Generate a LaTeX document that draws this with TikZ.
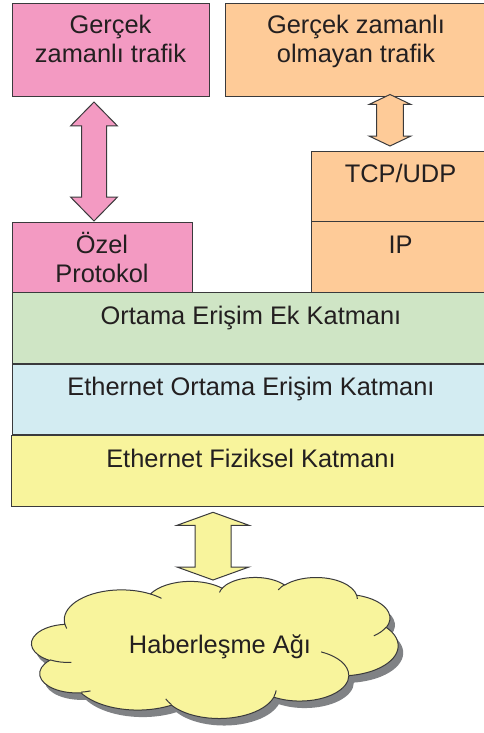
\documentclass[tikz,border=0pt]{standalone}
\usepackage{fontspec}
\setmainfont{Liberation Sans}
\usetikzlibrary{calc}

\definecolor{rtpink}{HTML}{F39AC2}
\definecolor{nrtorange}{HTML}{FECB98}
\definecolor{extgreen}{HTML}{CFE5C5}
\definecolor{macblue}{HTML}{D3ECF2}
\definecolor{phyyellow}{HTML}{F8F49C}
\definecolor{inkline}{HTML}{3A3A3C}
\definecolor{inktext}{HTML}{231F20}
\definecolor{cloudshadow}{HTML}{808285}

% vertical block arrow with a head at both ends:
% fill colour, top tip, bottom tip, half width, half shaft width, head length
\newcommand\blockarrow[6]{%
  \filldraw[fill=#1, arrowline]
    (#2) -- ($(#2)+(#4,#6)$) -- ($(#2)+(#5,#6)$)
    -- ($(#3)+(#5,-#6)$) -- ($(#3)+(#4,-#6)$) -- (#3)
    -- ($(#3)+(-#4,-#6)$) -- ($(#3)+(-#5,-#6)$)
    -- ($(#2)+(-#5,#6)$) -- ($(#2)+(-#4,#6)$) -- cycle;
}

% cloud outline in a 432 x 432 frame (y pointing down)
\newcommand\cloudoutline{(39.00,143.70)
  arc[oarc={67.53}{91.90}{-190.48748}{123.78053}]
  arc[oarc={53.33}{72.67}{-144.10238}{89.94523}]
  arc[oarc={43.65}{59.45}{-145.80792}{99.72302}]
  arc[oarc={48.57}{65.95}{-130.98607}{117.24173}]
  arc[oarc={53.33}{72.73}{-78.70888}{109.02692}]
  arc[oarc={67.75}{92.20}{-46.26725}{130.26900}]
  arc[oarc={57.85}{78.67}{0.62502}{114.03333}]
  arc[oarc={67.52}{92.15}{22.45160}{115.17255}]
  arc[oarc={77.20}{105.43}{66.24263}{75.71102}]
  arc[oarc={43.60}{59.18}{-274.94208}{146.73557}]
  arc[oarc={43.45}{59.45}{-246.82850}{152.51885}]
  -- cycle}

% inner curls of the cloud
\newcommand\cloudcurls{
  (46.93,261.77) arc[oarc={43.45}{59.45}{86.74200}{26.42950}]
  (69.28,348.99) arc[oarc={43.60}{59.18}{73.61047}{11.44747}]
  (164.78,390.90) arc[oarc={67.52}{92.15}{137.62415}{14.08110}]
  (288.27,347.51) arc[oarc={67.52}{92.15}{6.45327}{15.99835}]
  (341.29,229.54) arc[oarc={57.85}{78.67}{-70.29235}{70.91737}]
  (417.98,153.54) arc[oarc={53.33}{72.73}{30.31803}{27.75150}]
  (383.24,54.26) arc[oarc={48.57}{65.95}{-13.74433}{14.85890}]
  (290.78,39.52) arc[oarc={48.57}{65.95}{-149.18145}{18.19537}]
  (221.41,47.20) arc[oarc={43.65}{59.45}{-163.49427}{17.68635}]
  (140.00,51.92) arc[oarc={67.53}{91.90}{-66.70695}{12.31935}]
  (41.27,157.89) arc[oarc={67.53}{91.90}{157.65435}{11.85817}]}

\begin{document}
\begin{tikzpicture}[
  x=1pt, y=-1pt,
  declare function={vang(\w,\h,\t)=atan2(\w*sin(\t),\h*cos(\t));},
  oarc/.style n args={4}{start angle={vang(#1,#2,#3)},
    delta angle={mod(vang(#1,#2,#3+#4)-vang(#1,#2,#3)+720,360)},
    x radius=#1, y radius=#2},
  layer/.style={draw=inkline, line width=1.1pt, rectangle, inner sep=0pt,
    anchor=north west},
  caption/.style={text=inktext, font=\fontsize{25.4pt}{29pt}\selectfont,
    inner sep=0pt, align=center},
  arrowline/.style={draw=inkline, line width=1pt, line join=miter},
]
\useasboundingbox[fill=white] (0,0) rectangle (483,733);

% application level
\node[layer, fill=rtpink, minimum width=197pt, minimum height=93pt] (rtbox) at (12,3) {};
\node[layer, fill=nrtorange, minimum width=265pt, minimum height=93pt] (nrtbox) at (225,3) {};
\node[caption, anchor=north] (rttext) at (110.5,9) {\rule{0pt}{24pt}Gerçek\\zamanlı trafik};
\node[caption, anchor=north] (nrttext) at (356,9) {\rule{0pt}{24pt}Gerçek zamanlı\\olmayan trafik};

% protocol level
\node[layer, fill=rtpink, minimum width=180pt, minimum height=70pt] (ozelbox) at (12,222) {};
\node[caption, anchor=north] (ozeltext) at (102,229) {\rule{0pt}{24pt}Özel\\Protokol};
\node[layer, fill=nrtorange, minimum width=179pt, minimum height=70pt] (tcpbox) at (311,151) {};
\node[layer, fill=nrtorange, minimum width=179pt, minimum height=71pt] (ipbox) at (311,221) {};
\node[caption, anchor=base] (tcptext) at (400.5,182) {TCP/UDP};
\node[caption, anchor=base] (iptext) at (400.5,253) {IP};

% common layers
\node[layer, fill=extgreen, minimum width=478pt, minimum height=70.5pt] (extbox) at (12,292) {};
\node[layer, fill=macblue, minimum width=478pt, minimum height=70.5pt] (macbox) at (12,363.5) {};
\node[layer, fill=phyyellow, minimum width=479pt, minimum height=71pt] (phybox) at (11,435) {};
\node[caption, anchor=base] (exttext) at (251,324) {Ortama Erişim Ek Katmanı};
\node[caption, anchor=base] (mactext) at (251,395) {Ethernet Ortama Erişim Katmanı};
\node[caption, anchor=base] (phytext) at (251,467) {Ethernet Fiziksel Katmanı};

% network cloud with its shadow
\begin{scope}[shift={(36.7,584)}, x=0.848pt, y=-0.3264pt]
  \fill[cloudshadow] \cloudoutline;
\end{scope}
\begin{scope}[shift={(31.7,577)}, x=0.848pt, y=-0.3264pt]
  \filldraw[fill=phyyellow, draw=inkline, line width=1pt] \cloudoutline;
  \draw[inkline, line width=1pt] \cloudcurls;
\end{scope}
\node[caption, anchor=base] (nettext) at (220,653.3) {Haberleşme Ağı};

% block arrows between the levels
\coordinate (rtup) at (94,102);
\coordinate (rtdown) at (94,221);
\coordinate (nrtup) at (390,94.5);
\coordinate (nrtdown) at (390,146);
\coordinate (netup) at (213,512.3);
\coordinate (netdown) at (213,580);
\blockarrow{rtpink}{rtup}{rtdown}{23.5}{12.5}{24}
\blockarrow{nrtorange}{nrtup}{nrtdown}{21}{13.3}{10}
\blockarrow{phyyellow}{netup}{netdown}{36}{18}{13}
\end{tikzpicture}
\end{document}
